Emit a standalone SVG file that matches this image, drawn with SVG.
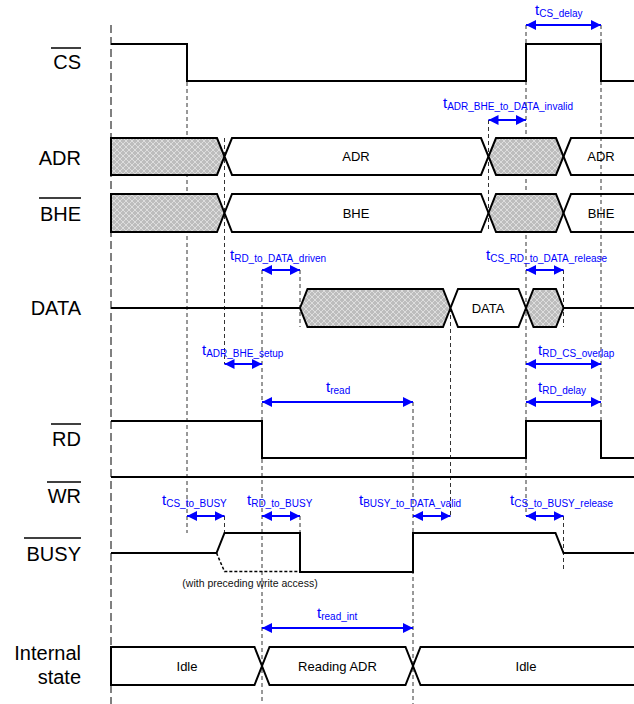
<svg xmlns="http://www.w3.org/2000/svg" width="634" height="704" viewBox="0 0 634 704">
<style>
.lbl{font-family:"Liberation Sans",Arial,sans-serif;font-size:20px;fill:#000;text-anchor:end}
.in{font-family:"Liberation Sans",Arial,sans-serif;font-size:13px;fill:#000;text-anchor:middle}
.note{font-family:"Liberation Sans",Arial,sans-serif;font-size:10.5px;fill:#111;text-anchor:middle}
.tm{font-family:"Liberation Sans",Arial,sans-serif;font-size:15px;fill:#0000ff}
.tm tspan{font-size:10px}
.sig{fill:none;stroke:#000;stroke-width:2;stroke-linejoin:miter}
.bar{stroke:#000;stroke-width:1.5}
.hat{fill:url(#hatch);stroke:#000;stroke-width:2}
.box{fill:#fff;stroke:#000;stroke-width:2}
.open{fill:none;stroke:#000;stroke-width:2}
.g{stroke:#333;stroke-width:1;stroke-dasharray:4,3;fill:none}
.g0{stroke:#000;stroke-width:1;stroke-dasharray:8,4;fill:none}
.arr{stroke:#0000ff;stroke-width:2;fill:none;marker-start:url(#ah);marker-end:url(#ah)}
.dot{fill:none;stroke:#000;stroke-width:1.5;stroke-dasharray:3,2}
</style>
<defs>
<pattern id="hatch" width="6" height="6" patternUnits="userSpaceOnUse">
<rect width="6" height="6" fill="#bdbdbd"/>
<path d="M0,3 L3,0 L6,3 L3,6 Z" fill="none" stroke="#e4e4e4" stroke-width="0.8"/>
</pattern>
<marker id="ah" viewBox="0 0 10 10" refX="10" refY="5" markerWidth="10" markerHeight="10" markerUnits="userSpaceOnUse" orient="auto-start-reverse">
<path d="M0,0 L10,5 L0,10 Z" fill="#0000ff"/>
</marker>
</defs>
<rect width="634" height="704" fill="#fff"/>

<g id="guides">
<line class="g0" x1="111" y1="25" x2="111" y2="704"/>
<line class="g" x1="187" y1="82" x2="187" y2="533"/>
<line class="g" x1="224.5" y1="138" x2="224.5" y2="364"/>
<line class="g" x1="224.5" y1="516" x2="224.5" y2="533"/>
<line class="g" x1="262" y1="270" x2="262" y2="704"/>
<line class="g" x1="300" y1="270" x2="300" y2="327"/>
<line class="g" x1="300" y1="516" x2="300" y2="533"/>
<line class="g" x1="413" y1="402" x2="413" y2="704"/>
<line class="g" x1="450.5" y1="308" x2="450.5" y2="516"/>
<line class="g" x1="488.5" y1="120" x2="488.5" y2="232"/>
<line class="g" x1="526" y1="25" x2="526" y2="516"/>
<line class="g" x1="563.5" y1="270" x2="563.5" y2="327"/>
<line class="g" x1="563.5" y1="516" x2="563.5" y2="572"/>
<line class="g" x1="601" y1="25" x2="601" y2="421"/>
</g>

<g id="CS">
<text class="lbl" x="81" y="68.5">CS</text>
<line class="bar" x1="51" y1="48" x2="81" y2="48"/>
<polyline class="sig" points="111,44 187,44 187,81 526,81 526,44 601,44 601,81 634,81"/>
</g>

<g id="ADR">
<text class="lbl" x="81" y="164.5">ADR</text>
<polygon class="hat" points="111,138 217,138 224.5,156.5 217,175 111,175"/>
<polygon class="box" points="232,138 481,138 488.5,156.5 481,175 232,175 224.5,156.5"/>
<polygon class="hat" points="496,138 556,138 563.5,156.5 556,175 496,175 488.5,156.5"/>
<polyline class="open" points="634,138 571,138 563.5,156.5 571,175 634,175"/>
<text class="in" x="356" y="161.2">ADR</text>
<text class="in" x="601" y="161.2">ADR</text>
</g>

<g id="BHE">
<text class="lbl" x="81" y="220.5">BHE</text>
<line class="bar" x1="39" y1="198" x2="81" y2="198"/>
<polygon class="hat" points="111,194 217,194 224.5,213 217,232 111,232"/>
<polygon class="box" points="232,194 481,194 488.5,213 481,232 232,232 224.5,213"/>
<polygon class="hat" points="496,194 556,194 563.5,213 556,232 496,232 488.5,213"/>
<polyline class="open" points="634,194 571,194 563.5,213 571,232 634,232"/>
<text class="in" x="356" y="217.7">BHE</text>
<text class="in" x="601" y="217.7">BHE</text>
</g>

<g id="DATA">
<text class="lbl" x="81" y="314.5">DATA</text>
<line class="open" x1="111" y1="308" x2="300" y2="308"/>
<polygon class="hat" points="300,308 307.5,289 443,289 450.5,308 443,327 307.5,327"/>
<polygon class="box" points="458,289 518.5,289 526,308 518.5,327 458,327 450.5,308"/>
<polygon class="hat" points="533.5,289 556,289 563.5,308 556,327 533.5,327 526,308"/>
<line class="open" x1="563.5" y1="308" x2="634" y2="308"/>
<text class="in" x="488" y="312.7">DATA</text>
</g>

<g id="RD">
<text class="lbl" x="81" y="446">RD</text>
<line class="bar" x1="51" y1="424" x2="81" y2="424"/>
<polyline class="sig" points="111,421 262,421 262,458 526,458 526,421 601,421 601,458 634,458"/>
</g>

<g id="WR">
<text class="lbl" x="81" y="503">WR</text>
<line class="bar" x1="47" y1="482" x2="81" y2="482"/>
<line class="sig" x1="111" y1="477" x2="634" y2="477"/>
</g>

<g id="BUSY">
<text class="lbl" x="81" y="561">BUSY</text>
<line class="bar" x1="24" y1="538" x2="81" y2="538"/>
<polyline class="sig" points="111,553 216.5,553 224.5,533 300,533 300,572 413,572 413,533 555.5,533 563.5,553 634,553"/>
<polyline class="dot" points="216.5,553 224.5,571.5 300,571.5"/>
<text class="note" x="250" y="587">(with preceding write access)</text>
</g>

<g id="InternalState">
<text class="lbl" x="81" y="660">Internal</text>
<text class="lbl" x="81" y="684">state</text>
<polygon class="box" points="111,647 254.5,647 262,666 254.5,685 111,685"/>
<polygon class="box" points="269.5,647 405.5,647 413,666 405.5,685 269.5,685 262,666"/>
<polyline class="open" points="634,647 420.5,647 413,666 420.5,685 634,685"/>
<text class="in" x="187" y="670.7">Idle</text>
<text class="in" x="337.5" y="670.7">Reading ADR</text>
<text class="in" x="526" y="670.7">Idle</text>
</g>

<g id="connectors">
<line class="arr" x1="526" y1="25" x2="601" y2="25"/>
<line class="arr" x1="488.5" y1="120" x2="526" y2="120"/>
<line class="arr" x1="262" y1="270" x2="300" y2="270"/>
<line class="arr" x1="526" y1="270" x2="563.5" y2="270"/>
<line class="arr" x1="224.5" y1="364" x2="262" y2="364"/>
<line class="arr" x1="526" y1="364" x2="601" y2="364"/>
<line class="arr" x1="262" y1="402" x2="413" y2="402"/>
<line class="arr" x1="526" y1="402" x2="601" y2="402"/>
<line class="arr" x1="187" y1="516" x2="224.5" y2="516"/>
<line class="arr" x1="262" y1="516" x2="300" y2="516"/>
<line class="arr" x1="413" y1="516" x2="450.5" y2="516"/>
<line class="arr" x1="526" y1="516" x2="563.5" y2="516"/>
<line class="arr" x1="262" y1="628" x2="413" y2="628"/>
</g>

<g id="timing-labels">
<text class="tm" x="535" y="15">t<tspan dy="2">CS_delay</tspan></text>
<text class="tm" x="443" y="108">t<tspan dy="2">ADR_BHE_to_DATA_invalid</tspan></text>
<text class="tm" x="230" y="260">t<tspan dy="2">RD_to_DATA_driven</tspan></text>
<text class="tm" x="486" y="260">t<tspan dy="2">CS_RD_to_DATA_release</tspan></text>
<text class="tm" x="202" y="355">t<tspan dy="2">ADR_BHE_setup</tspan></text>
<text class="tm" x="538" y="355">t<tspan dy="2">RD_CS_overlap</tspan></text>
<text class="tm" x="326" y="392">t<tspan dy="2">read</tspan></text>
<text class="tm" x="538" y="392">t<tspan dy="2">RD_delay</tspan></text>
<text class="tm" x="162" y="505">t<tspan dy="2">CS_to_BUSY</tspan></text>
<text class="tm" x="247" y="505">t<tspan dy="2">RD_to_BUSY</tspan></text>
<text class="tm" x="359" y="505">t<tspan dy="2">BUSY_to_DATA_valid</tspan></text>
<text class="tm" x="510" y="505">t<tspan dy="2">CS_to_BUSY_release</tspan></text>
<text class="tm" x="317" y="618">t<tspan dy="2">read_int</tspan></text>
</g>
</svg>
